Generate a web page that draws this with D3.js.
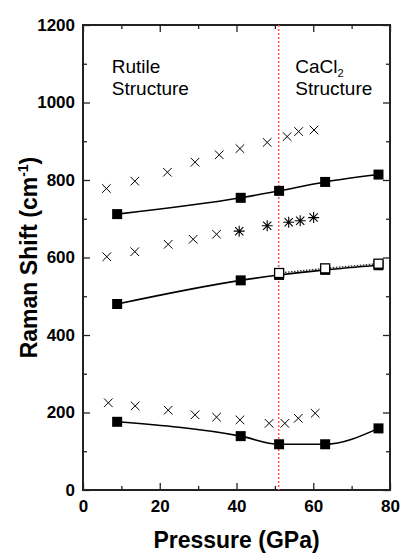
<!DOCTYPE html>
<html>
<head>
<meta charset="utf-8">
<script src="https://cdn.jsdelivr.net/npm/d3@7"></script>
<style>
  html, body { margin: 0; padding: 0; background: #fff; }
  svg { display: block; }
  text { font-family: Arial, "Liberation Sans", sans-serif; fill: #000; }
</style>
</head>
<body>
<div id="chart"></div>
<script>
// Raman modes vs pressure: fitted modes (squares) and measured peaks (crosses / asterisks)
const xTicks = [0, 20, 40, 60, 80];
const yTicks = [0, 200, 400, 600, 800, 1000, 1200];
const transitionPressure = 51;

const pressureSquares = [8.9, 41.1, 51.1, 63.1, 77.0];
const highModeSquares = [712, 754, 772, 795, 814];
const midModeSquares  = [480, 541, 555, 568, 580];
const lowModeSquares  = [176, 139, 118, 118, 159];

const pressureOpen = [51.1, 63.1, 77.0];
const midModeOpen  = [560, 572, 584];

const pressureHighCross = [6.1, 13.5, 22.0, 29.2, 35.5, 40.9, 48.0, 53.2, 56.2, 60.2];
const highModeCross     = [778, 797, 820, 846, 865, 881, 897, 912, 925, 929];

const pressureMidCross = [6.2, 13.5, 22.2, 28.7, 34.8];
const midModeCross     = [602, 615, 634, 647, 660];

const pressureStar = [40.7, 48.0, 53.6, 56.6, 60.1];
const midModeStar  = [668, 682, 691, 695, 703];

const pressureLowCross = [6.6, 13.6, 22.2, 29.2, 34.8, 40.9, 48.5, 52.6, 56.1, 60.5];
const lowModeCross     = [225, 217, 206, 194, 188, 181, 172, 172, 185, 198];

const W = 401, H = 554;
const margin = { top: 25, right: 11, bottom: 64, left: 83 };
const iw = W - margin.left - margin.right;
const ih = H - margin.top - margin.bottom;

const svg = d3.select("#chart").append("svg").attr("width", W).attr("height", H);
const g = svg.append("g").attr("transform", `translate(${margin.left},${margin.top})`);

const x = d3.scaleLinear().domain([0, 80]).range([0, iw]);
const y = d3.scaleLinear().domain([0, 1200]).range([ih, 0]);

const xMinor = d3.range(10, 80, 20);
const yMinor = d3.range(100, 1200, 200);
const axisColor = "#222";

function styleAxis(sel) {
  sel.select(".domain").remove();
  sel.selectAll("line").attr("stroke", axisColor).attr("stroke-width", 1.3);
}

// major and minor ticks on all four sides, pointing inward
g.append("g").attr("transform", `translate(0,${ih})`)
  .call(d3.axisBottom(x).tickValues(xTicks).tickSize(-7).tickPadding(10).tickFormat(d3.format("d")))
  .call(styleAxis)
  .selectAll("text").attr("font-size", 17).attr("font-weight", "bold");
g.append("g").attr("transform", `translate(0,${ih})`)
  .call(d3.axisBottom(x).tickValues(xMinor).tickSize(-4).tickFormat(""))
  .call(styleAxis);
g.append("g")
  .call(d3.axisTop(x).tickValues(xTicks).tickSize(-7).tickFormat(""))
  .call(styleAxis);
g.append("g")
  .call(d3.axisTop(x).tickValues(xMinor).tickSize(-4).tickFormat(""))
  .call(styleAxis);

g.append("g")
  .call(d3.axisLeft(y).tickValues(yTicks).tickSize(-7).tickPadding(8).tickFormat(d3.format("d")))
  .call(styleAxis)
  .selectAll("text").attr("font-size", 17).attr("font-weight", "bold");
g.append("g")
  .call(d3.axisLeft(y).tickValues(yMinor).tickSize(-4).tickFormat(""))
  .call(styleAxis);
g.append("g").attr("transform", `translate(${iw},0)`)
  .call(d3.axisRight(y).tickValues(yTicks).tickSize(-7).tickFormat(""))
  .call(styleAxis);
g.append("g").attr("transform", `translate(${iw},0)`)
  .call(d3.axisRight(y).tickValues(yMinor).tickSize(-4).tickFormat(""))
  .call(styleAxis);

// frame
g.append("rect").attr("x", 0).attr("y", 0).attr("width", iw).attr("height", ih)
  .attr("fill", "none").attr("stroke", axisColor).attr("stroke-width", 2);

// phase transition marker
g.append("line")
  .attr("x1", x(transitionPressure)).attr("x2", x(transitionPressure))
  .attr("y1", 0).attr("y2", ih)
  .attr("stroke", "#ff5a5a").attr("stroke-width", 1.6).attr("stroke-dasharray", "2,2");

// structure labels
const lab = g.append("g").attr("font-size", 19);
lab.append("text").attr("x", x(7.5)).attr("y", y(1077)).text("Rutile");
lab.append("text").attr("x", x(7.5)).attr("y", y(1020)).text("Structure");
const ca = lab.append("text").attr("x", x(55.3)).attr("y", y(1077));
ca.append("tspan").text("CaCl");
ca.append("tspan").attr("font-size", 11).attr("dy", 4).text("2");
lab.append("text").attr("x", x(55.3)).attr("y", y(1020)).text("Structure");

// fitted curves
const line = d3.line().x(d => x(d[0])).y(d => y(d[1])).curve(d3.curveMonotoneX);
const zip = (a, b) => a.map((v, i) => [v, b[i]]);

[highModeSquares, midModeSquares, lowModeSquares].forEach(vals => {
  g.append("path").datum(zip(pressureSquares, vals)).attr("d", line)
    .attr("fill", "none").attr("stroke", "#000").attr("stroke-width", 1.6);
});
g.append("path").datum(zip(pressureOpen, midModeOpen)).attr("d", d3.line().x(d => x(d[0])).y(d => y(d[1])))
  .attr("fill", "none").attr("stroke", "#333").attr("stroke-width", 1.4).attr("stroke-dasharray", "1.5,1.5");

// square markers
const sq = 10;
[highModeSquares, midModeSquares, lowModeSquares].forEach(vals => {
  g.append("g").selectAll("rect").data(zip(pressureSquares, vals)).join("rect")
    .attr("x", d => x(d[0]) - sq / 2).attr("y", d => y(d[1]) - sq / 2)
    .attr("width", sq).attr("height", sq).attr("fill", "#000");
});
g.append("g").selectAll("rect").data(zip(pressureOpen, midModeOpen)).join("rect")
  .attr("x", d => x(d[0]) - sq / 2 + 0.5).attr("y", d => y(d[1]) - sq / 2 + 0.5)
  .attr("width", sq - 1).attr("height", sq - 1).attr("fill", "#fff")
  .attr("stroke", "#000").attr("stroke-width", 1.3);

// cross and asterisk markers
const cr = 4.3;
function crosses(px, vals) {
  g.append("g").selectAll("path").data(zip(px, vals)).join("path")
    .attr("d", d => {
      const cx = x(d[0]), cy = y(d[1]);
      return `M${cx - cr},${cy - cr}L${cx + cr},${cy + cr}M${cx - cr},${cy + cr}L${cx + cr},${cy - cr}`;
    })
    .attr("stroke", "#000").attr("stroke-width", 1).attr("fill", "none");
}
crosses(pressureHighCross, highModeCross);
crosses(pressureMidCross, midModeCross);
crosses(pressureLowCross, lowModeCross);

const sr = 5.5;
g.append("g").selectAll("path").data(zip(pressureStar, midModeStar)).join("path")
  .attr("d", d => {
    const cx = x(d[0]), cy = y(d[1]), a = sr * 0.75;
    return `M${cx - a},${cy - a}L${cx + a},${cy + a}M${cx - a},${cy + a}L${cx + a},${cy - a}` +
           `M${cx},${cy - sr}L${cx},${cy + sr}M${cx - sr},${cy}L${cx + sr},${cy}`;
  })
  .attr("stroke", "#000").attr("stroke-width", 1.1).attr("fill", "none");

// axis titles
svg.append("text")
  .attr("x", margin.left + iw / 2).attr("y", 548)
  .attr("text-anchor", "middle").attr("font-size", 23).attr("font-weight", "bold")
  .text("Pressure (GPa)");

const yt = svg.append("text")
  .attr("transform", `translate(37,${margin.top + ih / 2}) rotate(-90)`)
  .attr("text-anchor", "middle").attr("font-size", 23).attr("font-weight", "bold");
yt.append("tspan").text("Raman Shift (cm");
yt.append("tspan").attr("font-size", 14).attr("dy", -9).text("-1");
yt.append("tspan").attr("dy", 9).text(")");
</script>
</body>
</html>
